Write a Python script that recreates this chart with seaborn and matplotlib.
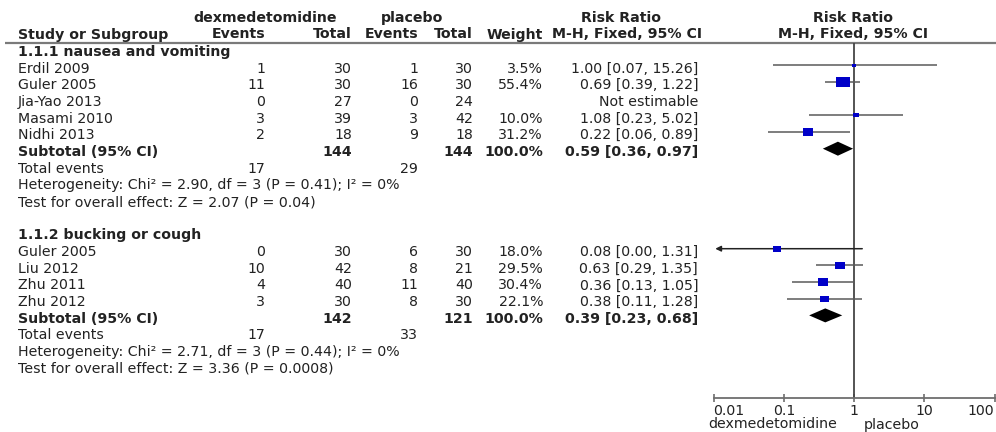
import numpy as np
import pandas as pd
import seaborn as sns
import matplotlib.pyplot as plt
from matplotlib.ticker import NullLocator

# 1.1.1 nausea and vomiting
g1_name = "1.1.1 nausea and vomiting"
g1_studies = ["Erdil 2009", "Guler 2005", "Jia-Yao 2013", "Masami 2010", "Nidhi 2013"]
g1_dex_events = [1, 11, 0, 3, 2]
g1_dex_total = [30, 30, 27, 39, 18]
g1_pla_events = [1, 16, 0, 3, 9]
g1_pla_total = [30, 30, 24, 42, 18]
g1_weight = [3.5, 55.4, np.nan, 10.0, 31.2]
g1_rr = [1.00, 0.69, np.nan, 1.08, 0.22]
g1_lo = [0.07, 0.39, np.nan, 0.23, 0.06]
g1_hi = [15.26, 1.22, np.nan, 5.02, 0.89]
g1_sub = [144, 144, 100.0, 0.59, 0.36, 0.97]
g1_events = [17, 29]
g1_het = "Heterogeneity: Chi\u00b2 = 2.90, df = 3 (P = 0.41); I\u00b2 = 0%"
g1_test = "Test for overall effect: Z = 2.07 (P = 0.04)"

# 1.1.2 bucking or cough
g2_name = "1.1.2 bucking or cough"
g2_studies = ["Guler 2005", "Liu 2012", "Zhu 2011", "Zhu 2012"]
g2_dex_events = [0, 10, 4, 3]
g2_dex_total = [30, 42, 40, 30]
g2_pla_events = [6, 8, 11, 8]
g2_pla_total = [30, 21, 40, 30]
g2_weight = [18.0, 29.5, 30.4, 22.1]
g2_rr = [0.08, 0.63, 0.36, 0.38]
g2_lo = [0.00, 0.29, 0.13, 0.11]
g2_hi = [1.31, 1.35, 1.05, 1.28]
g2_sub = [142, 121, 100.0, 0.39, 0.23, 0.68]
g2_events = [17, 33]
g2_het = "Heterogeneity: Chi\u00b2 = 2.71, df = 3 (P = 0.44); I\u00b2 = 0%"
g2_test = "Test for overall effect: Z = 3.36 (P = 0.0008)"

tick_vals = [0.01, 0.1, 1, 10, 100]
tick_labels = ["0.01", "0.1", "1", "10", "100"]

sns.set_theme(style="ticks")
plt.rcParams["font.family"] = ["DejaVu Sans"]
FS = 10.2
TXT = "#222222"
GREY = "#6e6e6e"

# one row = 16.67 px, row 0 sits at y = 52 px
ROW = 16.67
Y0 = 52
def r(px):
    return (px - Y0) / ROW

fig = plt.figure(figsize=(9.96, 4.32), dpi=100)
ax_t = fig.add_axes([0, 0, 1, 1])
ax_t.set_xlim(0, 996)
ax_t.set_ylim(r(432), r(0))
ax_t.axis("off")

ax_f = fig.add_axes([713.5 / 996, 0, 281 / 996, 1])
ax_f.set_xscale("log")
ax_f.set_xlim(0.01, 100)
ax_f.set_ylim(r(432), r(0))
ax_f.patch.set_alpha(0)

X_NAME, X_EV1, X_TOT1, X_EV2, X_TOT2, X_W, X_CI = 18, 265, 352, 418, 473, 543, 698

def put(x, y, s, ha="right", bold=False, va="center"):
    ax_t.text(x, y, s, ha=ha, va=va, fontsize=FS, color=TXT,
              fontweight="bold" if bold else "normal")

# header
put(265, r(18), "dexmedetomidine", ha="center", bold=True)
put(412, r(18), "placebo", ha="center", bold=True)
put(621, r(18), "Risk Ratio", ha="center", bold=True)
put(853, r(18), "Risk Ratio", ha="center", bold=True)
hy = r(34.5)
put(X_NAME, hy, "Study or Subgroup", ha="left", bold=True)
put(X_EV1, hy, "Events", bold=True)
put(X_TOT1, hy, "Total", bold=True)
put(X_EV2, hy, "Events", bold=True)
put(X_TOT2, hy, "Total", bold=True)
put(X_W, hy, "Weight", bold=True)
put(627, hy, "M-H, Fixed, 95% CI", ha="center", bold=True)
put(853, hy, "M-H, Fixed, 95% CI", ha="center", bold=True)
line_y = r(42.5)
ax_t.hlines(line_y, 5, 996, color="#7a7a7a", lw=1.6)

groups = [
    (g1_name, g1_studies, g1_dex_events, g1_dex_total, g1_pla_events, g1_pla_total,
     g1_weight, g1_rr, g1_lo, g1_hi, g1_sub, g1_events, g1_het, g1_test),
    (g2_name, g2_studies, g2_dex_events, g2_dex_total, g2_pla_events, g2_pla_total,
     g2_weight, g2_rr, g2_lo, g2_hi, g2_sub, g2_events, g2_het, g2_test),
]

study_rows = []
sub_rows = []
row = 0
for (name, studies, de, dt, pe, pt, w, rr, lo, hi, sub, ev, het, test) in groups:
    put(X_NAME, row, name, ha="left", bold=True)
    row += 1
    for i, s in enumerate(studies):
        put(X_NAME, row, s, ha="left")
        put(X_EV1, row, str(de[i]))
        put(X_TOT1, row, str(dt[i]))
        put(X_EV2, row, str(pe[i]))
        put(X_TOT2, row, str(pt[i]))
        if np.isnan(rr[i]):
            put(X_CI, row, "Not estimable")
        else:
            put(X_W, row, f"{w[i]:.1f}%")
            put(X_CI, row, f"{rr[i]:.2f} [{lo[i]:.2f}, {hi[i]:.2f}]")
        study_rows.append(dict(row=row, rr=rr[i], lo=lo[i], hi=hi[i], weight=w[i]))
        row += 1
    put(X_NAME, row, "Subtotal (95% CI)", ha="left", bold=True)
    put(X_TOT1, row, str(sub[0]), bold=True)
    put(X_TOT2, row, str(sub[1]), bold=True)
    put(X_W, row, f"{sub[2]:.1f}%", bold=True)
    put(X_CI, row, f"{sub[3]:.2f} [{sub[4]:.2f}, {sub[5]:.2f}]", bold=True)
    sub_rows.append(dict(row=row, rr=sub[3], lo=sub[4], hi=sub[5]))
    row += 1
    put(X_NAME, row, "Total events", ha="left")
    put(X_EV1, row, str(ev[0]))
    put(X_EV2, row, str(ev[1]))
    row += 1
    put(X_NAME, row, het, ha="left")
    row += 1
    put(X_NAME, row, test, ha="left")
    row += 2

df = pd.DataFrame(study_rows)
df["y"] = df["row"] - 0.2  # marks sit a little above the text centre
est = df.dropna()

# forest plot
axis_y = r(398)
xmin = ax_f.get_xlim()[0]
ax_f.vlines(1, line_y, axis_y, color="#454545", lw=1.3, zorder=1)

inside = est[est["lo"] >= xmin]
ax_f.hlines(inside["y"], inside["lo"], inside["hi"], color="#5a5a5a", lw=1.1, zorder=2)
for _, d in est[est["lo"] < xmin].iterrows():
    ax_f.annotate("", xy=(xmin * 1.06, d["y"]), xytext=(d["hi"], d["y"]),
                  arrowprops=dict(arrowstyle="-|>", color="#222222", lw=1.1,
                                  mutation_scale=8, shrinkA=0, shrinkB=0),
                  zorder=2)

wmin, wmax = est["weight"].min(), est["weight"].max()
k = 1.77
box = [(-1, -0.72), (1, -0.72), (1, 0.72), (-1, 0.72)]
sns.scatterplot(data=est, x="rr", y="y", size="weight", sizes=(k * wmin, k * wmax),
                size_norm=(wmin, wmax), marker=box, color="#0000c8", edgecolor="none",
                linewidth=0, legend=False, ax=ax_f, zorder=3)

h = 0.42
for d in sub_rows:
    y = d["row"] - 0.2
    ax_f.fill([d["lo"], d["rr"], d["hi"], d["rr"]], [y, y - h, y, y + h],
              color="black", lw=0, zorder=3)

ax_f.set_xlim(0.01, 100)
ax_f.set_ylim(r(432), r(0))
for side in ["left", "right", "top"]:
    ax_f.spines[side].set_visible(False)
ax_f.spines["bottom"].set_position(("data", axis_y))
ax_f.spines["bottom"].set_color(GREY)
ax_f.spines["bottom"].set_linewidth(1.3)
ax_f.spines["bottom"].set_clip_on(False)
ax_f.set_xticks(tick_vals, labels=tick_labels)
ax_f.xaxis.set_minor_locator(NullLocator())
ax_f.tick_params(axis="x", bottom=True, direction="inout", length=6, width=1.2,
                 color=GREY, pad=1, labelsize=FS, labelcolor=TXT)
xt = ax_f.get_xticklabels()
xt[0].set_horizontalalignment("left")
xt[-1].set_horizontalalignment("right")
ax_f.set_yticks([])
ax_f.set_xlabel("")
ax_f.set_ylabel("")

put(773, r(428.5), "dexmedetomidine", ha="center", va="baseline")
put(892, r(428.5), "placebo", ha="center", va="baseline")

fig.savefig("out.png", dpi=100)
